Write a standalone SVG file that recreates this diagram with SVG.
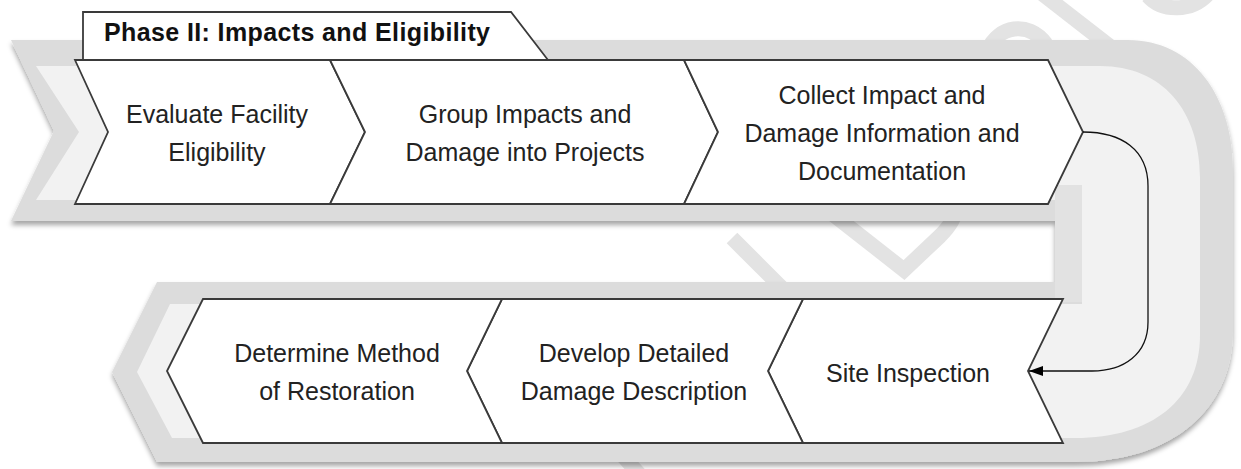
<svg xmlns="http://www.w3.org/2000/svg" width="1241" height="469" viewBox="0 0 1241 469">
<defs>
<style>
.box{fill:#ffffff;stroke:#3a3a3a;stroke-width:1.8;stroke-linejoin:miter}
.t{font-family:"Liberation Sans",Arial,sans-serif;font-size:25px;fill:#222222;text-anchor:middle}
.title{font-family:"Liberation Sans",Arial,sans-serif;font-size:25px;font-weight:bold;fill:#111111}
.wm{fill:none;stroke:#e3e3e3;stroke-width:15;stroke-linecap:butt}
.conn{fill:none;stroke:#111111;stroke-width:1.3}
</style>
<filter id="sh" x="-5%" y="-5%" width="110%" height="120%">
<feDropShadow dx="0" dy="4" stdDeviation="2.5" flood-color="#000000" flood-opacity="0.35"/>
</filter>
<marker id="ah" viewBox="0 0 14 10" refX="14" refY="5" markerWidth="14" markerHeight="10" markerUnits="userSpaceOnUse" orient="auto">
<path d="M0,0 L14,5 L0,10 Z" fill="#000000"/>
</marker>
</defs>
<rect x="0" y="0" width="1241" height="469" fill="#ffffff"/>
<g id="watermark">
<path class="wm" d="M732,238 L790,296"/>
<path class="wm" d="M830,212 L904,270 L940,236 C950,226 955,218 957,205"/>
<path class="wm" d="M988,50 C998,26 1028,20 1046,44"/>
<path class="wm" d="M1040,-8 L1112,48"/>
<path class="wm" d="M1148,-4 C1162,12 1192,12 1208,-6"/>
<path class="wm" d="M622,455 L640,475"/>
</g>
<g id="band">
<path d="M11,40 H1128 C1192,40 1233,95 1233,170 V330 C1233,410 1172,462 1075,462 H157 L112,372 L157,282 H1055 V221 H11 L54,131 Z" fill="#dcdcdc" filter="url(#sh)"/>
<path d="M36,66 H1100 C1162,66 1200,110 1200,178 V335 C1200,400 1152,438 1075,438 H172 L137,372 L170,304 H1082 V200 H36 L79,132 Z" fill="#f2f2f2"/>
<rect x="1055" y="185" width="27" height="117" fill="#e2e2e2"/>
</g>
<g id="phase-tab">
<path d="M83,60 V12 H511 L548,60 Z" fill="#ffffff" stroke="#3a3a3a" stroke-width="1.8"/>
<text class="title" x="104" y="41" textLength="386" lengthAdjust="spacing">Phase II: Impacts and Eligibility</text>
</g>
<g id="node-evaluate">
<path class="box" d="M75,60 H330 L365,132 L330,204 H75 L108,132 Z"/>
<text class="t" x="217" y="123">Evaluate Facility</text>
<text class="t" x="217" y="161">Eligibility</text>
</g>
<g id="node-group">
<path class="box" d="M330,60 H684 L718,132 L684,204 H330 L365,132 Z"/>
<text class="t" x="525" y="123">Group Impacts and</text>
<text class="t" x="525" y="161">Damage into Projects</text>
</g>
<g id="node-collect">
<path class="box" d="M684,60 H1048 L1083,132 L1048,204 H684 L718,132 Z"/>
<text class="t" x="882" y="104">Collect Impact and</text>
<text class="t" x="882" y="142">Damage Information and</text>
<text class="t" x="882" y="180">Documentation</text>
</g>
<g id="node-site">
<path class="box" d="M803,299 H1063 L1028,371 L1063,443 H803 L768,371 Z"/>
<text class="t" x="908" y="382">Site Inspection</text>
</g>
<g id="node-develop">
<path class="box" d="M502,299 H803 L768,371 L803,443 H502 L467,371 Z"/>
<text class="t" x="634" y="362">Develop Detailed</text>
<text class="t" x="634" y="400">Damage Description</text>
</g>
<g id="node-determine">
<path class="box" d="M203,299 H502 L467,371 L502,443 H203 L167,371 Z"/>
<text class="t" x="337" y="362">Determine Method</text>
<text class="t" x="337" y="400">of Restoration</text>
</g>
<g id="connectors">
<path class="conn" d="M1083,132 C1122,132 1148,150 1148,186 V322 C1148,354 1124,371 1092,371 H1029" marker-end="url(#ah)"/>
</g>
</svg>
